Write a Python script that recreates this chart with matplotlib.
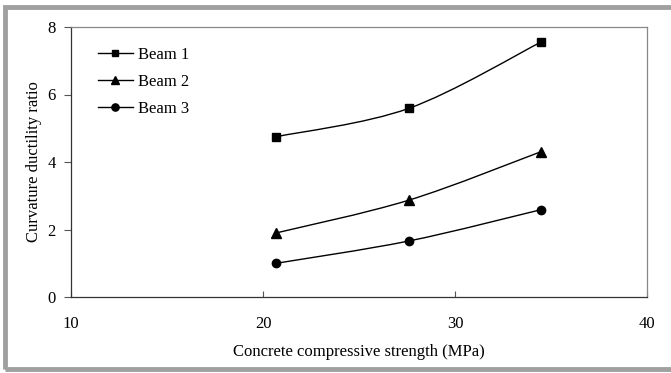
import numpy as np
import matplotlib
matplotlib.use('Agg')
import matplotlib.pyplot as plt
from matplotlib.path import Path
from matplotlib.patches import PathPatch, Rectangle

plt.rcParams['font.family'] = ['Liberation Serif', 'DejaVu Serif']

# Data
strength = [20.7, 27.6, 34.5]
beam1 = [4.75, 5.59, 7.56]
beam2 = [1.90, 2.87, 4.31]
beam3 = [1.00, 1.66, 2.59]
series = [('Beam 1', beam1, 's', 5.5), ('Beam 2', beam2, '^', 6.5), ('Beam 3', beam3, 'o', 6)]


def smooth_path(x, y):
    # Excel-like smoothed line as cubic Bezier segments
    pts = np.column_stack([x, y])
    ext = np.vstack([pts[0], pts, pts[-1]])
    verts = [pts[0]]
    codes = [Path.MOVETO]
    for i in range(len(pts) - 1):
        p0, p1, p2, p3 = ext[i], ext[i + 1], ext[i + 2], ext[i + 3]
        c1 = p1 + (p2 - p0) / 6.0
        c2 = p2 - (p3 - p1) / 6.0
        verts += [c1, c2, p2]
        codes += [Path.CURVE4] * 3
    return Path(verts, codes)


fig = plt.figure(figsize=(6.71, 3.73), dpi=100)
ax = fig.add_axes([71 / 671, 1 - 297 / 373, 576 / 671, 270 / 373])

for label, vals, mk, ms in series:
    ax.add_patch(PathPatch(smooth_path(strength, vals), facecolor='none',
                           edgecolor='black', lw=1.0))
    ax.plot(strength, vals, linestyle='none', marker=mk, markersize=ms,
            color='black')
    ax.plot([], [], color='black', lw=1.0, marker=mk, markersize=ms - 0.8, label=label)

ax.set_xlim(10, 40)
ax.set_ylim(0, 8)
ax.set_xticks([10, 20, 30, 40])
ax.set_yticks([0, 2, 4, 6, 8])
ax.tick_params(axis='x', direction='in', length=4, pad=14, labelsize=12, width=0.8,
               color='#555555')
ax.tick_params(axis='y', direction='out', length=5, pad=6, labelsize=12, width=0.8,
               color='#555555')
for s in ['left', 'bottom']:
    ax.spines[s].set_color('#333333')
for s in ['top', 'right']:
    ax.spines[s].set_color('#888888')
for s in ax.spines.values():
    s.set_linewidth(0.9)

ax.set_xlabel('Concrete compressive strength (MPa)', fontsize=12, labelpad=8)
ax.set_ylabel('Curvature ductility ratio', fontsize=12, labelpad=4)

ax.legend(loc='upper left', bbox_to_anchor=(0.035, 0.95), frameon=False,
          fontsize=12, handlelength=2.1, handletextpad=0.3, labelspacing=0.65,
          borderaxespad=0)

# Gray frame around the figure
fig.patches.append(Rectangle((5 / 671, 4 / 373), 700 / 671, 362 / 373,
                             transform=fig.transFigure, fill=False,
                             edgecolor='#a0a0a0', lw=3.5))

fig.savefig('out.png', dpi=100)
